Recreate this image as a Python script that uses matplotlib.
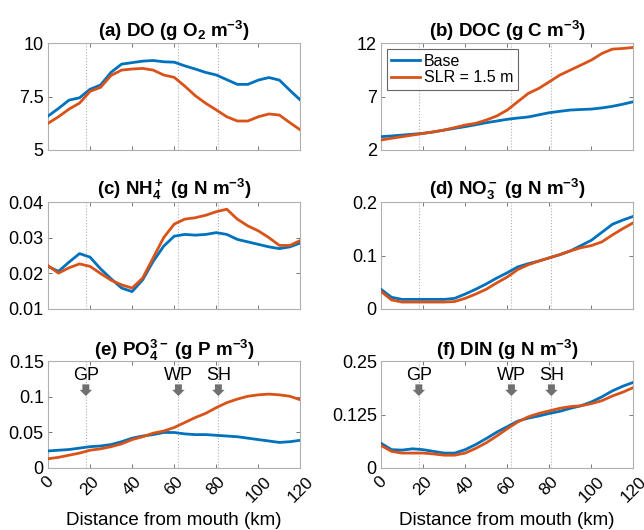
import matplotlib
matplotlib.use("Agg")
import matplotlib.pyplot as plt
import matplotlib.transforms as mtransforms

plt.rcParams['font.family'] = ['Liberation Sans', 'DejaVu Sans']
plt.rcParams['mathtext.fontset'] = 'custom'
plt.rcParams['mathtext.rm'] = 'Liberation Sans:bold'
plt.rcParams['mathtext.it'] = 'Liberation Sans:bold'
plt.rcParams['mathtext.bf'] = 'Liberation Sans:bold'

# distance from mouth (km)
dist = [0, 5, 10, 15, 20, 25, 30, 35, 40, 45, 50, 55, 60,
        65, 70, 75, 80, 85, 90, 95, 100, 105, 110, 115, 120]

do_base = [6.59, 6.95, 7.34, 7.45, 7.85, 8.05, 8.65, 9.03, 9.10, 9.17, 9.20, 9.14, 9.12,
           8.95, 8.80, 8.64, 8.52, 8.30, 8.08, 8.08, 8.28, 8.40, 8.28, 7.80, 7.34]
do_slr = [6.25, 6.56, 6.92, 7.20, 7.75, 7.94, 8.50, 8.75, 8.80, 8.83, 8.75, 8.52, 8.41,
          8.00, 7.55, 7.19, 6.88, 6.56, 6.36, 6.36, 6.56, 6.69, 6.64, 6.28, 5.94]

doc_base = [3.25, 3.32, 3.40, 3.48, 3.56, 3.70, 3.87, 4.03, 4.19, 4.37, 4.56, 4.72, 4.88,
            5.00, 5.10, 5.30, 5.50, 5.63, 5.75, 5.80, 5.84, 5.95, 6.10, 6.30, 6.53]
doc_slr = [2.94, 3.10, 3.25, 3.40, 3.56, 3.70, 3.87, 4.10, 4.34, 4.50, 4.81, 5.19, 5.75,
           6.53, 7.31, 7.78, 8.40, 9.03, 9.50, 9.97, 10.44, 11.06, 11.47, 11.53, 11.63]

nh4_base = [0.0220, 0.0206, 0.0232, 0.0256, 0.0246, 0.0213, 0.0185, 0.0159, 0.0149, 0.0182,
            0.0234, 0.0277, 0.0305, 0.0310, 0.0308, 0.0310, 0.0315, 0.0310, 0.0296, 0.0289,
            0.0282, 0.0275, 0.0270, 0.0275, 0.0286]
nh4_slr = [0.0222, 0.0201, 0.0216, 0.0227, 0.0220, 0.0200, 0.0181, 0.0168, 0.0159, 0.0187,
           0.0244, 0.0301, 0.0339, 0.0353, 0.0357, 0.0364, 0.0374, 0.0381, 0.0353, 0.0334,
           0.0320, 0.0301, 0.0279, 0.0279, 0.0293]

no3_base = [0.037, 0.022, 0.018, 0.018, 0.018, 0.018, 0.018, 0.020, 0.028, 0.037, 0.047, 0.058, 0.068,
            0.079, 0.085, 0.090, 0.096, 0.102, 0.109, 0.119, 0.129, 0.144, 0.159, 0.167, 0.174]
no3_slr = [0.033, 0.017, 0.013, 0.013, 0.013, 0.013, 0.013, 0.014, 0.020, 0.028, 0.037, 0.049, 0.060,
           0.074, 0.083, 0.090, 0.096, 0.102, 0.109, 0.115, 0.119, 0.126, 0.139, 0.151, 0.162]

po4_base = [0.024, 0.025, 0.026, 0.028, 0.030, 0.031, 0.033, 0.037, 0.042, 0.045, 0.047, 0.050, 0.050,
            0.048, 0.047, 0.047, 0.046, 0.045, 0.044, 0.042, 0.040, 0.038, 0.036, 0.037, 0.039]
po4_slr = [0.013, 0.015, 0.018, 0.021, 0.025, 0.027, 0.030, 0.034, 0.040, 0.044, 0.049, 0.052, 0.057,
           0.064, 0.071, 0.077, 0.085, 0.092, 0.097, 0.101, 0.103, 0.104, 0.103, 0.101, 0.096]

din_base = [0.058, 0.043, 0.042, 0.045, 0.043, 0.039, 0.035, 0.035, 0.043, 0.055, 0.069, 0.084, 0.097,
            0.110, 0.117, 0.122, 0.128, 0.133, 0.140, 0.146, 0.155, 0.167, 0.181, 0.192, 0.201]
din_slr = [0.053, 0.039, 0.035, 0.035, 0.035, 0.033, 0.030, 0.030, 0.035, 0.046, 0.059, 0.075, 0.092,
           0.108, 0.120, 0.128, 0.134, 0.140, 0.144, 0.146, 0.151, 0.158, 0.169, 0.178, 0.189]

# landmarks
sites = ['GP', 'WP', 'SH']
site_km = [18, 62, 81]

panels = [
    ('(a) DO (g O$_2$ m$^{-3}$)', do_base, do_slr, (5, 10), [5, 7.5, 10], ['5', '7.5', '10']),
    ('(b) DOC (g C m$^{-3}$)', doc_base, doc_slr, (2, 12), [2, 7, 12], ['2', '7', '12']),
    ('(c) NH$_4^+$ (g N m$^{-3}$)', nh4_base, nh4_slr, (0.01, 0.04),
     [0.01, 0.02, 0.03, 0.04], ['0.01', '0.02', '0.03', '0.04']),
    ('(d) NO$_3^-$ (g N m$^{-3}$)', no3_base, no3_slr, (0, 0.2), [0, 0.1, 0.2], ['0', '0.1', '0.2']),
    ('(e) PO$_4^{3-}$ (g P m$^{-3}$)', po4_base, po4_slr, (0, 0.15),
     [0, 0.05, 0.1, 0.15], ['0', '0.05', '0.1', '0.15']),
    ('(f) DIN (g N m$^{-3}$)', din_base, din_slr, (0, 0.25), [0, 0.125, 0.25], ['0', '0.125', '0.25']),
]

blue = '#0072BD'
orange = '#D95319'

fig = plt.figure(figsize=(6.44, 5.30), dpi=100)
lefts = [0.0745, 0.5916]
bottoms = [0.717, 0.417, 0.117]

for i, (title, base, slr, ylim, yt, ytl) in enumerate(panels):
    row, col = i // 2, i % 2
    ax = fig.add_axes([lefts[col], bottoms[row], 0.392, 0.201])
    for k in site_km:
        ax.axvline(k, color='#b0b0b0', lw=0.8, ls=':', zorder=1)
    ax.plot(dist, base, color=blue, lw=2, label='Base', zorder=3)
    ax.plot(dist, slr, color=orange, lw=2, label='SLR = 1.5 m', zorder=3)
    ax.set_xlim(0, 120)
    ax.set_ylim(*ylim)
    ax.set_yticks(yt)
    ax.set_yticklabels(ytl)
    ax.set_xticks(range(0, 121, 20))
    ax.tick_params(direction='in', top=True, right=True, length=3, width=0.6,
                   color='#606060', labelsize=13, pad=3)
    for s in ax.spines.values():
        s.set_color('#b0b0b0')
        s.set_linewidth(0.8)
    ax.set_title(title, fontsize=13.5, fontweight='bold', pad=4)
    if row == 2:
        ax.set_xticklabels([str(v) for v in range(0, 121, 20)], rotation=45, ha='center', va='top')
        ax.tick_params(axis='x', pad=4, labelsize=12.5)
        ax.set_xlabel('Distance from mouth (km)', fontsize=13.5, labelpad=5)
        tr = mtransforms.blended_transform_factory(ax.transData, ax.transAxes)
        for name, k in zip(sites, site_km):
            ax.text(k, 0.87, name, transform=tr, ha='center', va='center', fontsize=13)
            ax.annotate('', xy=(k, 0.675), xycoords=tr, xytext=(k, 0.785), textcoords=tr,
                        arrowprops=dict(arrowstyle='simple,head_width=0.9,head_length=0.45,tail_width=0.5',
                                        mutation_scale=10, shrinkA=0, shrinkB=0,
                                        color='#707070', lw=0))
    else:
        ax.set_xticklabels([])
    if i == 1:
        leg = ax.legend(loc='upper left', fontsize=11.5, frameon=True, fancybox=False,
                        handlelength=1.8, borderpad=0.3, labelspacing=0.1, handletextpad=0.25,
                        borderaxespad=0.35)
        leg.get_frame().set_edgecolor('#404040')
        leg.get_frame().set_linewidth(0.8)

fig.savefig('out.png', dpi=100)
